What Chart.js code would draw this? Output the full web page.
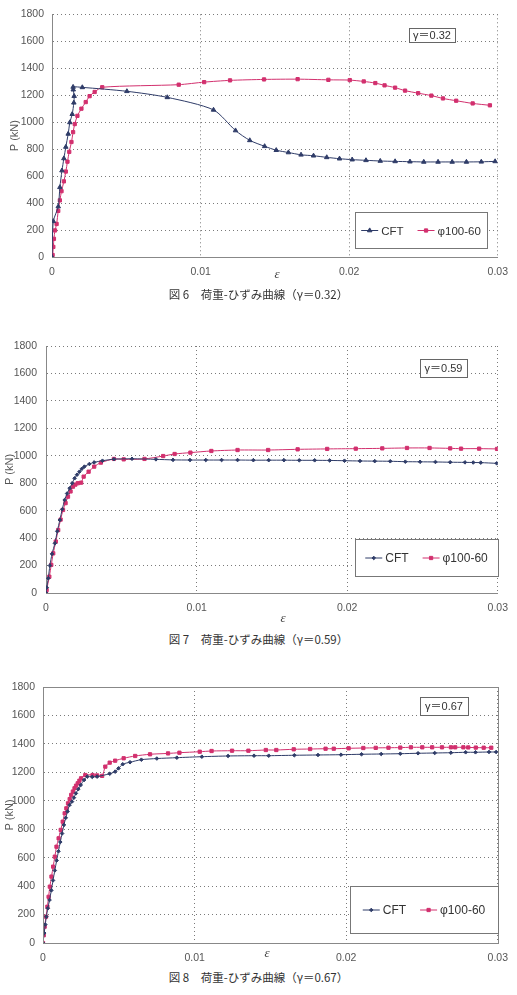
<!DOCTYPE html>
<html>
<head>
<meta charset="utf-8">
<script src="https://cdn.jsdelivr.net/npm/chart.js@4.4.1/dist/chart.umd.min.js"></script>
<style>
  body { margin: 0; width: 517px; height: 995px; background: #fff; position: relative; overflow: hidden; }
  canvas { position: absolute; left: 0; }
  .eps { position: absolute; font: italic 13px "Liberation Serif", serif; color: #444; transform: translate(-50%, -50%); }
  .cap { position: absolute; left: 0; width: 517px; text-align: center; font: 11.5px "Noto Sans CJK JP", sans-serif; color: #333; transform: translateY(-50%); }
</style>
</head>
<body>
<canvas id="fig6" width="517" height="285" style="top:0px"></canvas>
<canvas id="fig7" width="517" height="285" style="top:330px"></canvas>
<canvas id="fig8" width="517" height="305" style="top:660px"></canvas>
<div class="eps" style="left:277px;top:274px">ε</div>
<div class="eps" style="left:283px;top:618px">ε</div>
<div class="eps" style="left:267px;top:953px">ε</div>
<div class="cap" style="top:294px">図 6　荷重-ひずみ曲線（γ＝0.32）</div>
<div class="cap" style="top:639px">図 7　荷重-ひずみ曲線（γ＝0.59）</div>
<div class="cap" style="top:977px">図 8　荷重-ひずみ曲線（γ＝0.67）</div>
<script>
// series labels
var seriesNames = ["CFT", "φ100-60"];
var gammaLabels = ["γ＝0.32", "γ＝0.59", "γ＝0.67"];

// fig 6 (γ=0.32)
var eps6Cft = [0, 0.00009, 0.00042, 0.00053, 0.00067, 0.0008, 0.00093, 0.00109, 0.0012, 0.00136, 0.00147, 0.00149, 0.00143, 0.00142, 0.00204, 0.00504, 0.00776, 0.01087, 0.01235, 0.01331, 0.01431, 0.01509, 0.01591, 0.01676, 0.0176, 0.01849, 0.01935, 0.0202, 0.02113, 0.02209, 0.02309, 0.02409, 0.02502, 0.02598, 0.02693, 0.02789, 0.02889, 0.02982];
var p6Cft = [0, 265, 374, 517, 641, 731, 816, 913, 998, 1059, 1144, 1193, 1241, 1261, 1258, 1229, 1184, 1091, 938, 865, 821, 792, 775, 758, 751, 739, 729, 722, 717, 712, 709, 707, 705, 705, 705, 705, 706, 709];
var eps6Phi = [0, 0.00004, 0.00009, 0.00013, 0.0002, 0.00031, 0.00042, 0.00053, 0.00064, 0.0008, 0.00093, 0.00104, 0.00116, 0.00131, 0.00142, 0.00153, 0.00171, 0.00198, 0.00227, 0.00253, 0.00287, 0.00338, 0.00853, 0.01024, 0.01198, 0.01427, 0.01653, 0.0186, 0.02004, 0.02098, 0.02176, 0.02238, 0.02309, 0.02376, 0.02464, 0.02553, 0.02631, 0.0272, 0.02831, 0.02947];
var p6Phi = [0, 15, 75, 135, 197, 245, 342, 420, 488, 561, 634, 707, 780, 853, 926, 986, 1047, 1100, 1149, 1193, 1224, 1259, 1278, 1297, 1310, 1317, 1319, 1314, 1312, 1302, 1290, 1273, 1256, 1234, 1215, 1197, 1176, 1159, 1139, 1125];

// fig 7 (γ=0.59)
var eps7Cft = [0, 0.00005, 0.00015, 0.00026, 0.0004, 0.00059, 0.00075, 0.00092, 0.00108, 0.00124, 0.0014, 0.00157, 0.00174, 0.0019, 0.00206, 0.00222, 0.00238, 0.00255, 0.00288, 0.0032, 0.00375, 0.00451, 0.00571, 0.0073, 0.00843, 0.00956, 0.01061, 0.01166, 0.01272, 0.01377, 0.01479, 0.0158, 0.01682, 0.01784, 0.01884, 0.01982, 0.02085, 0.02183, 0.02286, 0.02386, 0.02484, 0.02586, 0.02684, 0.02782, 0.02837, 0.02887, 0.02993];
var p7Cft = [0, 40, 107, 200, 285, 362, 450, 532, 610, 678, 725, 763, 800, 836, 862, 884, 905, 921, 940, 952, 964, 975, 978, 974, 970, 969, 969, 969, 969, 968, 968, 968, 967, 967, 966, 964, 962, 961, 960, 957, 956, 955, 953, 952, 951, 950, 945];
var eps7Phi = [0, 0.00004, 0.00022, 0.00035, 0.00048, 0.00065, 0.00081, 0.00097, 0.00113, 0.0013, 0.00146, 0.00163, 0.00179, 0.00195, 0.00211, 0.00233, 0.0025, 0.00283, 0.0032, 0.00364, 0.00451, 0.00516, 0.00654, 0.00778, 0.00854, 0.00959, 0.01098, 0.01272, 0.01475, 0.01671, 0.01867, 0.02057, 0.02233, 0.02397, 0.02547, 0.02684, 0.02756, 0.02876, 0.02995];
var p7Phi = [0, 22, 119, 205, 289, 375, 459, 535, 605, 655, 702, 740, 775, 790, 800, 804, 848, 884, 921, 950, 977, 974, 977, 998, 1013, 1023, 1035, 1042, 1042, 1047, 1050, 1052, 1054, 1057, 1057, 1054, 1052, 1052, 1050];

// fig 8 (γ=0.67)
var eps8Cft = [0, 0.00008, 0.00015, 0.00022, 0.00032, 0.00043, 0.00055, 0.00066, 0.00078, 0.0009, 0.00102, 0.00114, 0.00126, 0.00138, 0.0015, 0.00162, 0.00175, 0.00191, 0.00204, 0.00217, 0.00233, 0.00249, 0.00271, 0.00292, 0.00325, 0.00357, 0.0044, 0.00476, 0.00498, 0.00526, 0.00574, 0.00649, 0.00751, 0.00883, 0.01048, 0.01221, 0.01392, 0.01489, 0.01658, 0.01814, 0.01966, 0.02101, 0.02231, 0.02357, 0.02474, 0.02584, 0.02691, 0.02788, 0.02853, 0.02942, 0.02989];
var p8Cft = [0, 70, 130, 185, 244, 302, 370, 440, 510, 580, 645, 710, 770, 830, 880, 925, 970, 994, 1022, 1052, 1082, 1111, 1146, 1170, 1168, 1170, 1190, 1205, 1228, 1257, 1271, 1289, 1297, 1303, 1310, 1315, 1317, 1317, 1320, 1322, 1324, 1327, 1329, 1331, 1334, 1336, 1338, 1341, 1341, 1343, 1343];
var eps8Phi = [0, 0.00005, 0.00011, 0.0002, 0.00029, 0.00037, 0.00045, 0.00056, 0.00067, 0.00078, 0.00089, 0.00103, 0.00117, 0.0013, 0.00143, 0.00154, 0.00165, 0.00176, 0.00186, 0.00197, 0.00208, 0.00218, 0.00229, 0.0024, 0.00251, 0.00279, 0.00327, 0.00357, 0.0039, 0.00411, 0.0044, 0.00476, 0.00532, 0.00608, 0.00706, 0.00825, 0.009, 0.01034, 0.01112, 0.01247, 0.01355, 0.0147, 0.01539, 0.01654, 0.01762, 0.01864, 0.01918, 0.02016, 0.02113, 0.02195, 0.02279, 0.02357, 0.02427, 0.02502, 0.02567, 0.02632, 0.02691, 0.02719, 0.02773, 0.02805, 0.02855, 0.02907, 0.02957];
var p8Phi = [0, 55, 115, 185, 255, 325, 396, 467, 537, 607, 677, 736, 795, 853, 912, 947, 982, 1012, 1041, 1065, 1088, 1106, 1123, 1141, 1158, 1181, 1181, 1178, 1175, 1240, 1268, 1282, 1299, 1315, 1327, 1333, 1338, 1345, 1350, 1352, 1352, 1357, 1357, 1362, 1364, 1366, 1366, 1369, 1371, 1372, 1373, 1374, 1376, 1376, 1376, 1376, 1376, 1376, 1376, 1375, 1374, 1373, 1373];

var navy = "#2f3c68";
var pink = "#d2306e";
var tickFont = { family: "'Liberation Sans', Arial, sans-serif", size: 10.5 };

function pts(xs, ys) {
  return xs.map(function (x, i) { return { x: x, y: ys[i] }; });
}

// legend box + γ box drawn inside the plot area
var boxes = {
  id: "boxes",
  afterDraw: function (chart, args, o) {
    var ctx = chart.ctx, a = chart.chartArea;
    ctx.save();
    if (o.frame) {
      ctx.strokeStyle = "#888";
      ctx.lineWidth = 1;
      ctx.strokeRect(Math.round(a.left) + 0.5, Math.round(a.top) + 0.5, Math.round(a.right - a.left), Math.round(a.bottom - a.top));
    }
    // γ label
    var g = o.gamma;
    var gx = Math.round(a.right - g.r - g.w), gy = Math.round(a.top + g.t);
    ctx.fillStyle = "#fff";
    ctx.fillRect(gx, gy, g.w, g.h);
    ctx.strokeStyle = "#666";
    ctx.strokeRect(gx + 0.5, gy + 0.5, g.w, g.h);
    ctx.fillStyle = "#333";
    ctx.font = "11px 'Liberation Sans', 'Noto Sans CJK JP', sans-serif";
    ctx.textAlign = "center";
    ctx.textBaseline = "middle";
    ctx.fillText(g.text, gx + g.w / 2, gy + g.h / 2 + 1);
    // legend
    var l = o.legend;
    var bx = Math.round(a.right - l.r - l.w), by = Math.round(a.bottom - l.b - l.h);
    ctx.fillStyle = "#fff";
    ctx.fillRect(bx, by, l.w, l.h);
    ctx.strokeStyle = "#777";
    ctx.strokeRect(bx + 0.5, by + 0.5, l.w, l.h);
    ctx.font = l.size + "px 'Liberation Sans', 'DejaVu Sans', sans-serif";
    ctx.textAlign = "left";
    var lineLen = 17, gap = 3, sep = 14;
    var ds = chart.data.datasets;
    var total = 0;
    ds.forEach(function (d, i) {
      total += lineLen + gap + ctx.measureText(d.label).width + (i ? sep : 0);
    });
    var x = bx + (l.w - total) / 2, cy = by + l.h / 2 + 0.5;
    ds.forEach(function (d, i) {
      if (i) x += sep;
      ctx.strokeStyle = d.borderColor;
      ctx.lineWidth = 1;
      ctx.beginPath();
      ctx.moveTo(x, cy);
      ctx.lineTo(x + lineLen, cy);
      ctx.stroke();
      ctx.fillStyle = d.backgroundColor;
      Chart.helpers.drawPoint(ctx, { pointStyle: d.pointStyle, radius: d.pointRadius, rotation: 0, borderWidth: 1 }, x + lineLen / 2, cy);
      x += lineLen + gap;
      ctx.fillStyle = "#333";
      ctx.fillText(d.label, x, cy + 1);
      x += ctx.measureText(d.label).width;
    });
    ctx.restore();
  }
};

function makeChart(id, cft, phi, s) {
  return new Chart(id, {
    type: "scatter",
    data: {
      datasets: [
        {
          label: seriesNames[0],
          data: cft,
          showLine: true,
          borderColor: navy,
          backgroundColor: navy,
          borderWidth: 1,
          pointStyle: s.cftPoint,
          pointRadius: s.cftRadius,
          pointBorderWidth: 1,
          tension: 0.25
        },
        {
          label: seriesNames[1],
          data: phi,
          showLine: true,
          borderColor: pink,
          backgroundColor: pink,
          borderWidth: 1,
          pointStyle: "rect",
          pointRadius: s.phiRadius,
          pointBorderWidth: 1,
          tension: 0.25
        }
      ]
    },
    options: {
      responsive: false,
      animation: false,
      layout: { padding: { top: s.top, right: s.right, left: 0, bottom: 0 } },
      plugins: {
        legend: { display: false },
        tooltip: { enabled: false },
        boxes: { frame: s.frame, gamma: s.gamma, legend: s.legend }
      },
      scales: {
        x: {
          type: "linear",
          min: 0,
          max: 0.03,
          ticks: { stepSize: 0.01, color: "#555", font: tickFont, padding: 9, maxRotation: 0,
            callback: function (v) { return String(+v.toFixed(2)); } },
          grid: { color: "#7a7a7a", lineWidth: 1, drawTicks: false },
          border: { color: "#888", width: 1, dash: [1, 3] },
          afterFit: function (sc) { sc.height = s.xHeight; }
        },
        y: {
          min: 0,
          max: 1800,
          ticks: { stepSize: 200, color: "#555", font: tickFont, padding: s.yPad,
            callback: function (v) { return String(v); } },
          grid: { color: "#7a7a7a", lineWidth: 1, drawTicks: false },
          border: { color: "#888", width: 1, dash: [1, 3] },
          title: { display: true, text: "P (kN)", color: "#555", font: { family: "'Liberation Sans', Arial, sans-serif", size: 11 }, padding: { top: s.titlePad, bottom: 0 } },
          afterFit: function (sc) { sc.width = s.left; }
        }
      }
    },
    plugins: [boxes]
  });
}

makeChart("fig6", pts(eps6Cft, p6Cft), pts(eps6Phi, p6Phi), {
  top: 9.5, right: 17, left: 52, xHeight: 28, yPad: 8, titlePad: 8.4,
  cftPoint: "triangle", cftRadius: 2.6, phiRadius: 2.3, frame: false,
  gamma: { text: gammaLabels[0], r: 43, w: 46, t: 13.5, h: 14 },
  legend: { r: 11, w: 132, b: 9, h: 36, size: 11.5 }
});

makeChart("fig7", pts(eps7Cft, p7Cft), pts(eps7Phi, p7Phi), {
  top: 16, right: 12, left: 46, xHeight: 22, yPad: 9, titlePad: 3.5,
  cftPoint: "rectRot", cftRadius: 1.8, phiRadius: 2.3, frame: false,
  gamma: { text: gammaLabels[1], r: 31, w: 47, t: 13, h: 18 },
  legend: { r: 0, w: 143, b: 17, h: 37, size: 12 }
});

makeChart("fig8", pts(eps8Cft, p8Cft), pts(eps8Phi, p8Phi), {
  top: 27, right: 12, left: 43, xHeight: 22, yPad: 8, titlePad: 3.5,
  cftPoint: "rectRot", cftRadius: 1.8, phiRadius: 2.3, frame: true,
  gamma: { text: gammaLabels[2], r: 30, w: 48, t: 10, h: 18 },
  legend: { r: 0, w: 148, b: 10, h: 47, size: 12 }
});
</script>
</body>
</html>
